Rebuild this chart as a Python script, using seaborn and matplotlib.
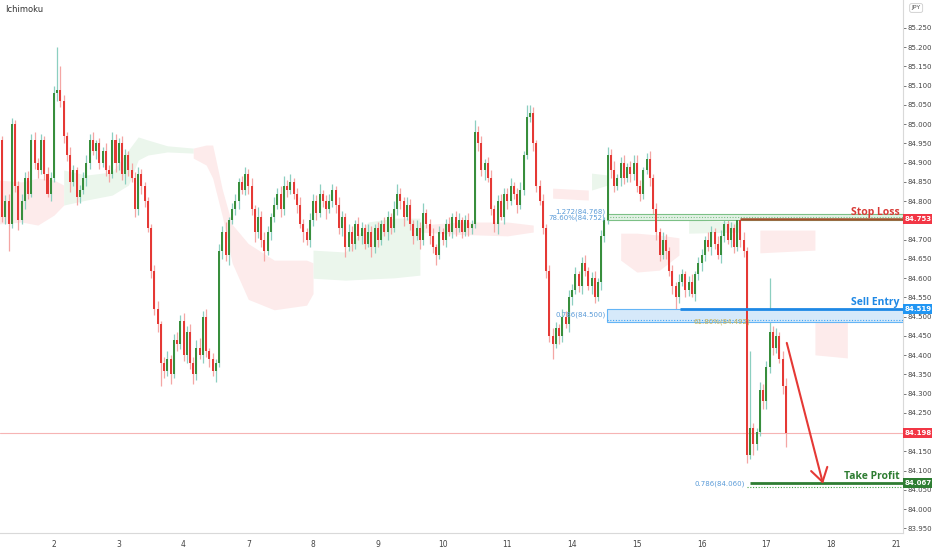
import matplotlib
matplotlib.use("Agg")
import matplotlib.pyplot as plt
import numpy as np
import pandas as pd
import seaborn as sns
from matplotlib.patches import Rectangle

# ---- price data (hourly-ish bars, 20 bars per trading day) ----
first_bar = -16
first_open = 84.96

closes_pre = [84.76, 84.80, 84.74, 85.00, 84.84, 84.75, 84.80, 84.86, 84.82, 84.96,
              84.90, 84.88, 84.96, 84.87, 84.82, 84.86]
closes_d2 = [85.08, 85.09, 85.06, 84.97, 84.92, 84.85, 84.88, 84.81, 84.83, 84.86,
             84.90, 84.96, 84.93, 84.95, 84.90, 84.93, 84.88, 84.87, 84.96, 84.90]
closes_d3 = [84.95, 84.87, 84.92, 84.88, 84.86, 84.78, 84.87, 84.84, 84.80, 84.73,
             84.62, 84.52, 84.48, 84.38, 84.36, 84.39, 84.35, 84.44, 84.43, 84.49]
closes_d4 = [84.40, 84.46, 84.38, 84.35, 84.42, 84.40, 84.50, 84.41, 84.39, 84.36,
             84.38, 84.67, 84.72, 84.66, 84.75, 84.78, 84.80, 84.85, 84.83, 84.87]
closes_d7 = [84.84, 84.78, 84.72, 84.76, 84.70, 84.67, 84.72, 84.76, 84.79, 84.82,
             84.78, 84.84, 84.83, 84.85, 84.82, 84.79, 84.74, 84.72, 84.70, 84.75]
closes_d8 = [84.80, 84.77, 84.82, 84.80, 84.78, 84.80, 84.83, 84.79, 84.73, 84.76,
             84.68, 84.72, 84.69, 84.74, 84.71, 84.73, 84.69, 84.72, 84.68, 84.73]
closes_d9 = [84.70, 84.74, 84.72, 84.76, 84.73, 84.78, 84.82, 84.80, 84.76, 84.79,
             84.74, 84.71, 84.73, 84.70, 84.77, 84.74, 84.71, 84.68, 84.66, 84.72]
closes_d10 = [84.70, 84.74, 84.72, 84.76, 84.73, 84.75, 84.72, 84.75, 84.73, 84.74,
              84.98, 84.95, 84.88, 84.90, 84.86, 84.78, 84.74, 84.80, 84.76, 84.82]
closes_d11 = [84.80, 84.84, 84.82, 84.79, 84.83, 84.92, 85.02, 85.03, 84.95, 84.84,
              84.80, 84.73, 84.62, 84.45, 84.43, 84.47, 84.45, 84.50, 84.48, 84.55]
closes_d14 = [84.57, 84.61, 84.58, 84.64, 84.62, 84.58, 84.60, 84.55, 84.59, 84.71,
              84.75, 84.92, 84.88, 84.84, 84.86, 84.90, 84.86, 84.89, 84.87, 84.90]
closes_d15 = [84.84, 84.82, 84.88, 84.91, 84.86, 84.78, 84.72, 84.66, 84.70, 84.67,
              84.62, 84.58, 84.55, 84.59, 84.61, 84.57, 84.59, 84.56, 84.61, 84.64]
closes_d16 = [84.66, 84.70, 84.68, 84.72, 84.69, 84.66, 84.71, 84.74, 84.70, 84.73,
              84.68, 84.75, 84.70, 84.67, 84.14, 84.21, 84.17, 84.20, 84.31, 84.28]
closes_d17 = [84.37, 84.46, 84.42, 84.45, 84.39, 84.32, 84.198]

# wick lengths above / below the body, in thousandths of a yen
wick_up = [10, 15, 20, 15, 10, 12, 20, 15, 18, 15, 20, 12, 15, 10, 20, 15,
           20, 110, 60, 15, 10, 20, 15, 10, 12, 15, 20, 15, 20, 10, 15, 12, 20, 15, 20, 15,
           15, 20, 15, 10, 20, 15, 20, 15, 10, 12, 10, 15, 20, 10, 15, 20, 10, 15, 20, 15,
           20, 15, 20, 15, 20, 25, 15, 20, 10, 15, 10, 20, 15, 25, 10, 15, 20, 10, 15, 20,
           15, 20, 10, 25, 15, 20, 15, 10, 20, 15, 20, 25, 15, 20, 10, 15, 20, 15, 10, 20,
           20, 15, 25, 10, 15, 20, 15, 10, 20, 15, 10, 20, 15, 10, 20, 15, 10, 20, 15, 10,
           15, 10, 20, 15, 10, 20, 25, 15, 10, 20, 15, 10, 20, 15, 25, 10, 15, 20, 10, 15,
           10, 15, 20, 10, 15, 20, 10, 15, 20, 10, 30, 15, 20, 10, 15, 20, 10, 15, 20, 15,
           15, 20, 10, 15, 20, 10, 30, 20, 15, 10, 15, 20, 10, 15, 20, 15, 10, 20, 15, 20,
           15, 20, 10, 15, 20, 10, 15, 20, 10, 15, 10, 20, 15, 25, 10, 15, 20, 10, 15, 20,
           20, 15, 10, 15, 20, 10, 15, 10, 20, 15, 10, 15, 10, 20, 15, 10, 15, 20, 10, 15,
           15, 10, 20, 15, 10, 20, 15, 10, 20, 15, 10, 10, 15, 20, 10, 200, 15, 10, 20, 15,
           15, 140, 15, 20, 10, 20, 20]
wick_dn = [15, 20, 70, 10, 15, 25, 10, 20, 15, 10, 15, 20, 10, 15, 10, 20,
           10, 20, 15, 20, 15, 25, 10, 20, 15, 10, 20, 15, 10, 20, 15, 10, 15, 20, 10, 25,
           20, 15, 25, 15, 10, 20, 15, 20, 15, 10, 20, 15, 20, 60, 20, 15, 25, 10, 20, 15,
           15, 20, 15, 25, 15, 10, 20, 15, 20, 15, 30, 10, 20, 15, 25, 10, 15, 20, 10, 15,
           20, 15, 25, 15, 20, 25, 10, 20, 15, 10, 20, 15, 20, 10, 15, 20, 10, 25, 15, 20,
           15, 20, 10, 15, 25, 10, 15, 20, 15, 20, 25, 10, 20, 15, 10, 20, 15, 10, 25, 15,
           20, 15, 10, 20, 15, 10, 15, 20, 25, 10, 15, 20, 10, 25, 15, 10, 20, 15, 25, 10,
           15, 20, 10, 15, 20, 10, 15, 10, 20, 15, 10, 20, 15, 25, 10, 15, 20, 25, 10, 20,
           20, 10, 15, 20, 10, 15, 10, 15, 20, 15, 10, 15, 20, 15, 40, 10, 20, 15, 10, 20,
           20, 10, 15, 20, 15, 10, 20, 15, 10, 20, 15, 10, 20, 15, 10, 20, 15, 10, 20, 15,
           15, 20, 15, 10, 20, 15, 20, 15, 10, 20, 15, 20, 30, 15, 10, 20, 15, 10, 20, 15,
           20, 15, 10, 20, 15, 10, 20, 15, 10, 20, 15, 10, 20, 15, 20, 10, 30, 15, 10, 20,
           20, 15, 20, 15, 10, 20, 36]

# ---- ichimoku cloud outline points (segment id, bar, top, bottom) ----
kumo_seg = [0, 0, 0, 0, 0,
            1, 1, 1, 1, 1, 1, 1, 1,
            2, 2, 2, 2, 2, 2, 2, 2, 2,
            3, 3, 3, 3, 3,
            4, 4, 4, 4,
            5, 5,
            6, 6,
            7, 7, 7, 7,
            8, 8,
            9, 9,
            10, 10]
kumo_bar = [-17, -10, -5, 0, 3,
            3, 10, 18, 23, 26, 29, 35, 43,
            43, 47, 49, 52, 55, 60, 68, 78, 80,
            80, 90, 97, 105, 113,
            113, 125, 140, 148,
            154, 165,
            166, 171,
            175, 180, 187, 193,
            196, 212,
            218, 235,
            235, 245]
kumo_top = [84.855, 84.850, 84.860, 84.855, 84.842,
            84.881, 84.868, 84.876, 84.933, 84.967, 84.959, 84.944, 84.938,
            84.938, 84.946, 84.946, 84.830, 84.740, 84.690, 84.647, 84.647, 84.640,
            84.673, 84.668, 84.746, 84.756, 84.756,
            84.738, 84.746, 84.746, 84.738,
            84.834, 84.829,
            84.873, 84.868,
            84.717, 84.717, 84.712, 84.705,
            84.751, 84.746,
            84.725, 84.725,
            84.486, 84.492]
kumo_bot = [84.741, 84.746, 84.738, 84.764, 84.790,
            84.790, 84.803, 84.816, 84.842, 84.907, 84.920, 84.928, 84.925,
            84.912, 84.894, 84.860, 84.760, 84.640, 84.545, 84.518, 84.530, 84.560,
            84.600, 84.595, 84.598, 84.601, 84.608,
            84.720, 84.714, 84.710, 84.720,
            84.808, 84.803,
            84.829, 84.842,
            84.647, 84.616, 84.621, 84.660,
            84.717, 84.720,
            84.666, 84.673,
            84.401, 84.393]
kumo_bull = {0: False, 1: True, 2: False, 3: True, 4: False, 5: False,
             6: True, 7: False, 8: True, 9: False, 10: False}

# ---- trade levels ----
stop_loss = 84.753
sell_entry = 84.519
take_profit = 84.067
last_price = 84.198
fib_top_a, fib_top_b = 84.768, 84.752
fib_mid_a, fib_mid_b = 84.500, 84.492
fib_low = 84.060
arrow_from = (226.3, 84.432)
arrow_to = (237.5, 84.066)

day_labels = ["2", "3", "4", "7", "8", "9", "10", "11", "14", "15", "16", "17", "18", "21"]
bars_per_day = 20
y_ticks = np.arange(83.95, 85.2501, 0.05)

# ---- build OHLC frame ----
closes = (closes_pre + closes_d2 + closes_d3 + closes_d4 + closes_d7 + closes_d8 + closes_d9
          + closes_d10 + closes_d11 + closes_d14 + closes_d15 + closes_d16 + closes_d17)
df = pd.DataFrame({"bar": np.arange(first_bar, first_bar + len(closes)), "close": closes})
df["open"] = [first_open] + closes[:-1]
df["high"] = df[["open", "close"]].max(axis=1) + np.array(wick_up) / 1000
df["low"] = df[["open", "close"]].min(axis=1) - np.array(wick_dn) / 1000
df["bull"] = df["close"] >= df["open"]

kumo = pd.DataFrame({"seg": kumo_seg, "bar": kumo_bar, "top": kumo_top, "bot": kumo_bot})

sns.set_theme(style="white")
plt.rcParams["font.family"] = ["DejaVu Sans"]

fig = plt.figure(figsize=(9.32, 5.5), dpi=100)
ax = fig.add_axes([0, 0.031, 0.9689, 0.969])
x_right = 262.2
ax.set_xlim(-16.67, x_right)
ax.set_ylim(83.9383, 85.3227)

# cloud
for seg, part in kumo.groupby("seg"):
    col = "#ebf6ec" if kumo_bull[seg] else "#fdebeb"
    ax.fill_between(part["bar"], part["bot"], part["top"], color=col, lw=0, zorder=1)

# current price line
ax.axhline(last_price, color="#f6b4b4", lw=0.8, zorder=1.5)

# candles
green_body, red_body = "#388e3c", "#e53935"
green_wick, red_wick = "#8ccfc0", "#f4a6a4"
ax.vlines(df["bar"], df["low"], df["high"],
          colors=np.where(df["bull"], green_wick, red_wick), lw=0.9, zorder=2)
body_low = df[["open", "close"]].min(axis=1)
body_h = (df["close"] - df["open"]).abs().clip(lower=0.004)
ax.bar(df["bar"], body_h, bottom=body_low, width=0.62,
       color=np.where(df["bull"], green_body, red_body), lw=0, zorder=3)

# stop loss zone
zone_start = 170.8
ax.add_patch(Rectangle((zone_start, fib_top_b), x_right - zone_start, fib_top_a - fib_top_b,
                       fc="#e3f2e6", ec="#7cc086", lw=0.8, zorder=2.5))
ax.hlines((fib_top_a + fib_top_b) / 2, zone_start, x_right, colors="#7cc086", lw=0.8,
          linestyles=(0, (1, 1.5)), zorder=2.6)
ax.hlines(stop_loss, 212, x_right, colors="#a0522d", lw=1.8, zorder=4)

# sell entry zone
ax.add_patch(Rectangle((zone_start, fib_mid_b - 0.006), x_right - zone_start,
                       sell_entry - fib_mid_b + 0.006,
                       fc="#d6e9fa", ec="#64b5f6", lw=0.8, zorder=2.5))
ax.hlines(fib_mid_b, zone_start, x_right, colors="#42a5f5", lw=0.8,
          linestyles=(0, (1, 1.5)), zorder=2.6)
ax.hlines(sell_entry, 193.3, x_right, colors="#1e88e5", lw=2.0, zorder=4)

# take profit
ax.hlines(take_profit, 215, x_right, colors="#2e7d32", lw=2.0, zorder=4)
ax.hlines(fib_low - 0.002, 214, x_right, colors="#43a047", lw=0.8,
          linestyles=(0, (1, 1.5)), zorder=4)

# fib labels
fib_col = "#5a9bd8"
ax.text(170.3, fib_top_a + 0.004, "1.272(84.768)", ha="right", va="center", fontsize=5, color=fib_col)
ax.text(170.3, fib_top_b + 0.004, "78.60%(84.752)", ha="right", va="center", fontsize=5, color=fib_col)
ax.text(170.3, fib_mid_a + 0.004, "0.786(84.500)", ha="right", va="center", fontsize=5, color=fib_col)
ax.text(197.5, fib_mid_b - 0.004, "61.80%(84.492)", ha="left", va="center", fontsize=5, color="#c9b458")
ax.text(213.5, fib_low + 0.006, "0.786(84.060)", ha="right", va="center", fontsize=5, color=fib_col)

# arrow
ax.annotate("", xy=arrow_to, xytext=arrow_from,
            arrowprops=dict(arrowstyle="->,head_length=0.8,head_width=0.5",
                            color="#e53935", lw=1.5, shrinkA=0, shrinkB=0), zorder=5)

# trade captions
cap_font = dict(ha="right", va="bottom", fontsize=7.5, fontweight="bold", family="Open Sans")
ax.text(261.2, stop_loss + 0.004, "Stop Loss", color="#d83a36", **cap_font)
ax.text(261.2, sell_entry + 0.004, "Sell Entry", color="#1e88e5", **cap_font)
ax.text(261.2, take_profit + 0.004, "Take Profit", color="#2e7d32", **cap_font)

# axes styling
for side in ["top", "left"]:
    ax.spines[side].set_visible(False)
for side in ["right", "bottom"]:
    ax.spines[side].set_color("#d9d9d9")
    ax.spines[side].set_linewidth(0.8)
ax.yaxis.tick_right()
# labels hidden behind the price tags in the reference
hidden = {"84.750", "84.200"}
ax.set_yticks(y_ticks, ["" if f"{v:.3f}" in hidden else f"{v:.3f}" for v in y_ticks])
ax.set_xticks(np.arange(len(day_labels)) * bars_per_day, day_labels)
ax.tick_params(axis="y", labelsize=5, colors="#444444", length=2, width=0.5, pad=1.5)
ax.tick_params(axis="x", labelsize=5.5, colors="#444444", length=3, width=0.5, pad=2)
ax.grid(False)

# price tags on the axis
tags = [(stop_loss, "84.753", "#f23645"), (sell_entry, "84.519", "#2196f3"),
        (last_price, "84.198", "#f23645"), (take_profit, "84.067", "#2e7d32")]
for val, txt, col in tags:
    ax.annotate(txt, xy=(1.0, val), xycoords=("axes fraction", "data"),
                xytext=(1.5, 0), textcoords="offset points", ha="left", va="center",
                fontsize=5, color="white", fontweight="bold", zorder=10, annotation_clip=False,
                bbox=dict(boxstyle="square,pad=0.3", fc=col, ec="none"))

fig.text(0.006, 1 - 10 / 550, "Ichimoku", fontsize=6, color="#333333", va="center")
fig.text(0.983, 1 - 8 / 550, "JPY", fontsize=4.5, color="#555555", va="center", ha="center",
         bbox=dict(boxstyle="round,pad=0.3", fc="white", ec="#cccccc", lw=0.6))

fig.savefig("out.png", dpi=100, facecolor="white")
